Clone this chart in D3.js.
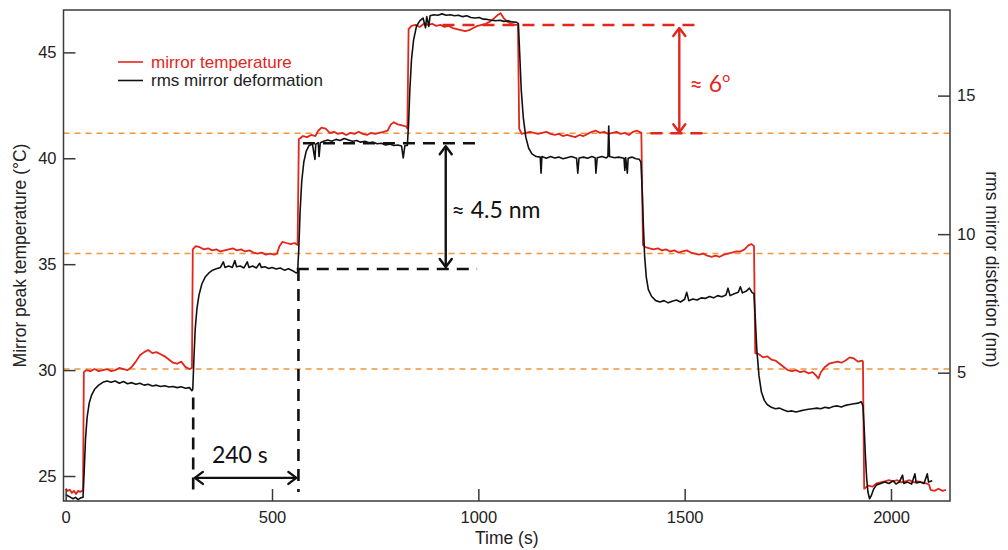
<!DOCTYPE html>
<html><head><meta charset="utf-8">
<script src="https://cdn.jsdelivr.net/npm/d3@7"></script>
<style>html,body{margin:0;padding:0;background:#fff}svg{display:block}</style>
</head><body>
<svg id="chart" width="1008" height="550"></svg>
<script>
// ---- data ----
const timeTicks = [0, 500, 1000, 1500, 2000];
const tempTicks = [25, 30, 35, 40, 45];
const distTicks = [5, 10, 15];
const referenceLevels = [30.05, 35.51, 41.18]; // orange dashed guide levels (°C)
const legendLabels = ["mirror temperature", "rms mirror deformation"];

// mirror temperature [time s, °C]
const mirrorTemp = [
[0,24.4],[5,24.3],[10,24.35],[15,24.2],[20,24.3],[25,24.15],[30,24.3],[35,24.25],[40,24.3],[42,24.3],
[44,29.9],[50,30.0],[60,29.95],[70,30.05],[80,29.95],[90,30.0],[100,30.05],[110,29.95],[120,30.0],[130,30.1],[140,30.05],[150,30.0],[160,30.15],[170,30.4],[180,30.7],[190,30.85],[200,30.95],[210,30.8],[220,30.85],[230,30.75],[240,30.65],[250,30.5],[260,30.35],[270,30.3],[280,30.4],[290,30.15],[300,30.05],[306,30.1],
[308,35.7],[315,35.85],[325,35.8],[335,35.7],[345,35.75],[355,35.65],[365,35.7],[375,35.6],[385,35.65],[395,35.7],[405,35.75],[415,35.65],[425,35.7],[435,35.6],[445,35.65],[455,35.55],[465,35.5],[475,35.55],[485,35.45],[495,35.5],[505,35.45],[512,35.5],[518,35.85],[525,36.05],[535,36.0],[545,35.95],[555,36.0],[562,35.9],
[565,40.9],[575,41.05],[585,41.0],[595,41.1],[605,41.05],[612,41.3],[620,41.45],[630,41.4],[640,41.2],[650,41.25],[660,41.15],[670,41.2],[680,41.1],[690,41.2],[700,41.15],[710,41.25],[720,41.15],[730,41.1],[740,41.2],[750,41.15],[760,41.2],[770,41.25],[780,41.3],[788,41.6],[795,41.7],[805,41.6],[815,41.55],[825,41.5],[828,41.4],
[831,46.1],[838,46.25],[848,46.3],[858,46.2],[868,46.35],[878,46.3],[888,46.35],[898,46.25],[908,46.3],[918,46.2],[928,46.25],[938,46.15],[948,46.1],[958,46.05],[968,46.0],[978,46.05],[988,46.15],[998,46.25],[1008,46.3],[1018,46.35],[1028,46.45],[1038,46.6],[1046,46.75],[1054,46.85],[1062,46.6],[1070,46.45],[1080,46.35],[1090,46.3],[1096,46.3],
[1099,41.4],[1105,41.15],[1115,41.2],[1125,41.25],[1135,41.2],[1145,41.15],[1155,41.2],[1165,41.25],[1175,41.15],[1185,41.1],[1195,41.15],[1205,41.05],[1215,41.1],[1225,41.05],[1235,41.0],[1245,41.1],[1255,41.05],[1265,41.15],[1275,41.25],[1285,41.3],[1295,41.2],[1305,41.25],[1315,41.15],[1325,41.2],[1335,41.25],[1345,41.15],[1355,41.2],[1365,41.1],[1375,41.25],[1385,41.3],[1395,41.2],
[1399,35.9],[1405,35.8],[1415,35.75],[1425,35.7],[1435,35.75],[1445,35.65],[1455,35.7],[1465,35.6],[1475,35.65],[1485,35.55],[1495,35.6],[1505,35.65],[1515,35.55],[1525,35.5],[1535,35.45],[1545,35.5],[1555,35.4],[1565,35.35],[1575,35.4],[1585,35.35],[1595,35.45],[1605,35.5],[1615,35.55],[1625,35.6],[1635,35.6],[1645,35.7],[1655,35.9],[1662,35.95],[1668,35.85],
[1671,30.8],[1680,30.75],[1690,30.6],[1700,30.65],[1710,30.5],[1720,30.45],[1730,30.3],[1740,30.15],[1750,30.0],[1760,29.95],[1770,30.0],[1780,29.9],[1790,29.95],[1800,29.85],[1810,29.9],[1818,29.75],[1824,29.6],[1830,29.9],[1840,30.15],[1850,30.3],[1860,30.35],[1870,30.4],[1880,30.35],[1890,30.45],[1900,30.6],[1910,30.55],[1920,30.4],[1930,30.45],[1932,30.4],
[1935,24.4],[1945,24.55],[1955,24.5],[1965,24.65],[1975,24.7],[1985,24.75],[1995,24.8],[2005,24.75],[2015,24.8],[2025,24.7],[2035,24.75],[2045,24.8],[2055,24.7],[2065,24.75],[2075,24.7],[2085,24.65],[2092,24.6],[2096,24.35],[2105,24.3],[2115,24.4],[2125,24.3],[2133,24.35]
];

// rms mirror deformation [time s, nm]
const rmsDeformation = [
[0,0.6],[6,0.55],[12,0.5],[18,0.45],[24,0.5],[30,0.42],[36,0.48],[42,0.5],[45,1.5],[48,2.6],[52,3.4],[57,3.9],[63,4.2],[70,4.4],[80,4.55],[90,4.65],[100,4.7],[110,4.65],[120,4.7],[130,4.62],[140,4.68],[150,4.6],[160,4.64],[170,4.58],[180,4.62],[190,4.55],[200,4.58],[210,4.52],[220,4.55],[230,4.5],[240,4.53],[250,4.48],[260,4.5],[270,4.46],[280,4.49],[290,4.44],[300,4.46],[306,4.35],
[308,4.4],[311,5.6],[314,6.6],[318,7.3],[323,7.8],[330,8.2],[338,8.45],[347,8.6],[356,8.7],[365,8.75],[375,8.8],[382,9.0],[386,8.8],[395,8.85],[404,8.8],[410,9.05],[414,8.82],[423,8.85],[432,8.78],[440,9.0],[444,8.8],[453,8.85],[462,8.78],[470,8.95],[474,8.8],[483,8.82],[492,8.76],[500,8.8],[510,8.74],[520,8.78],[530,8.7],[540,8.75],[550,8.68],[558,8.6],[562,8.62],
[565,9.5],[568,10.8],[572,11.9],[577,12.6],[583,13.0],[590,13.2],[598,13.25],[604,12.7],[606,13.25],[612,13.3],[614,12.8],[617,13.3],[625,13.35],[635,13.4],[645,13.35],[655,13.42],[665,13.38],[675,13.45],[685,13.4],[695,13.35],[705,13.38],[715,13.32],[725,13.35],[735,13.3],[745,13.32],[755,13.26],[765,13.28],[775,13.22],[785,13.25],[795,13.2],[805,13.22],[814,13.18],[818,12.75],[822,13.2],[828,13.2],
[831,14.0],[834,15.2],[838,16.3],[843,17.0],[850,17.5],[858,17.7],[866,17.8],[872,17.45],[875,17.85],[880,17.5],[883,17.88],[892,17.92],[902,17.9],[912,17.95],[922,17.9],[932,17.92],[942,17.88],[952,17.9],[962,17.85],[972,17.88],[982,17.82],[992,17.8],[1002,17.82],[1012,17.76],[1022,17.75],[1032,17.72],[1042,17.7],[1052,17.72],[1062,17.68],[1072,17.7],[1082,17.66],[1092,17.65],[1097,17.6],
[1100,16.6],[1104,15.2],[1109,14.2],[1115,13.5],[1122,13.1],[1130,12.9],[1140,12.8],[1150,12.78],[1152,12.2],[1154,12.8],[1165,12.74],[1175,12.8],[1185,12.75],[1195,12.78],[1205,12.72],[1215,12.76],[1225,12.8],[1238,12.74],[1241,12.2],[1244,12.75],[1255,12.78],[1265,12.74],[1275,12.8],[1283,12.76],[1285,12.2],[1288,12.76],[1300,12.8],[1310,12.75],[1314,12.8],[1316,13.9],[1318,12.8],[1330,12.76],[1340,12.78],[1353,12.74],[1355,12.3],[1357,12.76],[1361,12.2],[1363,12.74],[1372,12.78],[1382,12.72],[1390,12.7],[1394,12.6],
[1397,11.6],[1400,10.3],[1403,9.2],[1407,8.45],[1412,8.0],[1420,7.75],[1430,7.6],[1440,7.55],[1450,7.6],[1460,7.52],[1470,7.58],[1480,7.62],[1490,7.55],[1500,7.65],[1505,7.9],[1510,7.6],[1520,7.66],[1530,7.62],[1540,7.7],[1550,7.68],[1560,7.75],[1570,7.7],[1580,7.78],[1590,7.74],[1600,7.8],[1605,8.05],[1610,7.78],[1620,7.85],[1630,7.9],[1635,8.1],[1640,7.88],[1650,7.95],[1657,8.05],[1663,7.9],[1668,7.85],
[1671,7.0],[1675,5.8],[1680,4.9],[1686,4.3],[1693,4.0],[1700,3.85],[1710,3.75],[1720,3.7],[1730,3.72],[1740,3.65],[1750,3.6],[1760,3.62],[1770,3.58],[1780,3.62],[1790,3.65],[1800,3.68],[1810,3.7],[1820,3.72],[1830,3.7],[1840,3.75],[1850,3.72],[1860,3.78],[1870,3.8],[1880,3.76],[1890,3.82],[1900,3.85],[1910,3.88],[1920,3.9],[1928,3.95],[1932,3.8],
[1935,3.0],[1938,2.0],[1941,1.2],[1944,0.7],[1948,0.45],[1952,0.55],[1958,0.8],[1965,0.95],[1975,1.0],[1985,1.05],[1995,1.0],[2005,1.1],[2012,0.98],[2020,1.05],[2028,1.3],[2031,1.0],[2040,1.05],[2050,0.98],[2058,1.35],[2061,1.02],[2070,1.05],[2080,1.0],[2088,1.35],[2091,1.05],[2100,1.1]
];

// ---- layout ----
const svg = d3.select("#chart");
const L = 63.5, R = 950, T = 10, B = 501;
const x = d3.scaleLinear().domain([-5.3, 2143]).range([L, R]);
const yT = d3.scaleLinear().domain([23.82, 47.0]).range([B, T]);
const yD = d3.scaleLinear().domain([0.368, 18.09]).range([B, T]);

const RED = "#e2261c", ORANGE = "#f0973e", TXT = "#222", AX = "#3a3a3a";
const tickFont = "'Liberation Sans', Arial, Helvetica, sans-serif";
const annFont = "Lato, 'Open Sans', sans-serif";

svg.append("defs").append("clipPath").attr("id","clip")
  .append("rect").attr("x",L).attr("y",T).attr("width",R-L).attr("height",B-T);

// orange guide lines
svg.append("g").selectAll("line").data(referenceLevels).join("line")
  .attr("x1",L).attr("x2",R).attr("y1",d=>yT(d)).attr("y2",d=>yT(d))
  .attr("stroke",ORANGE).attr("stroke-width",1.5).attr("stroke-dasharray","6,5");

// data lines
const lineT = d3.line().x(d=>x(d[0])).y(d=>yT(d[1]));
const lineD = d3.line().x(d=>x(d[0])).y(d=>yD(d[1]));
const plot = svg.append("g").attr("clip-path","url(#clip)");
plot.append("path").datum(mirrorTemp).attr("d",lineT).attr("fill","none")
  .attr("stroke",RED).attr("stroke-width",1.8).attr("stroke-linejoin","round");
plot.append("path").datum(rmsDeformation).attr("d",lineD).attr("fill","none")
  .attr("stroke","#111").attr("stroke-width",1.6).attr("stroke-linejoin","round");

// axes (ticks inward)
const gL = svg.append("g").attr("transform",`translate(${L},0)`)
  .call(d3.axisLeft(yT).tickValues(tempTicks).tickSizeInner(-12).tickSizeOuter(0));
const gR = svg.append("g").attr("transform",`translate(${R},0)`)
  .call(d3.axisRight(yD).tickValues(distTicks).tickSizeInner(-12).tickSizeOuter(0));
const gB = svg.append("g").attr("transform",`translate(0,${B})`)
  .call(d3.axisBottom(x).tickValues(timeTicks).tickFormat(d3.format("d")).tickSizeInner(-12).tickSizeOuter(0));
[gL,gR,gB].forEach(g=>{
  g.select(".domain").remove();
  g.selectAll(".tick line").attr("stroke",AX).attr("stroke-width",1.5);
  g.selectAll(".tick text").attr("fill",TXT).style("font-family",tickFont).style("font-size","16.5px");
});
gR.selectAll(".tick text").attr("x",7);
gL.selectAll(".tick text").attr("x",-7);
gB.selectAll(".tick text").attr("y",10);
// frame
svg.append("rect").attr("x",L).attr("y",T).attr("width",R-L).attr("height",B-T)
  .attr("fill","none").attr("stroke",AX).attr("stroke-width",1.5);

// axis titles
svg.append("text").attr("transform",`translate(26,${(T+B)/2}) rotate(-90)`)
  .attr("text-anchor","middle").attr("fill",TXT).style("font-family",tickFont).style("font-size","17.5px")
  .text("Mirror peak temperature (°C)");
svg.append("text").attr("transform",`translate(986,${(T+B)/2+14}) rotate(90)`)
  .attr("text-anchor","middle").attr("fill",TXT).style("font-family",tickFont).style("font-size","17.5px")
  .text("rms mirror distortion (nm)");
svg.append("text").attr("x",(L+R)/2).attr("y",544).attr("text-anchor","middle")
  .attr("fill",TXT).style("font-family",tickFont).style("font-size","17.5px").text("Time (s)");

// legend
const legColors = [RED, "#111"];
const leg = svg.append("g");
legendLabels.forEach((lab,i)=>{
  const yy = 62 + i*18.5;
  leg.append("line").attr("x1",118).attr("x2",143).attr("y1",yy).attr("y2",yy)
    .attr("stroke",legColors[i]).attr("stroke-width",1.6);
  leg.append("text").attr("x",151).attr("y",yy).attr("dy","0.35em")
    .attr("fill",i===0?RED:TXT).style("font-family",tickFont).style("font-size","17px").text(lab);
});

// ---- annotations (anchored in data coordinates) ----
const ann = svg.append("g");
function dashed(x1,y1,x2,y2,col){
  ann.append("line").attr("x1",x1).attr("y1",y1).attr("x2",x2).attr("y2",y2)
    .attr("stroke",col).attr("stroke-width",2.6).attr("stroke-dasharray","12,8");
}
function arrowHead(px,py,dx,dy,col){
  const s=8, w=6;
  const bx=px-dx*s, by=py-dy*s, nx=-dy, ny=dx;
  ann.append("path").attr("d",`M${bx+nx*w},${by+ny*w}L${px},${py}L${bx-nx*w},${by-ny*w}`)
    .attr("fill","none").attr("stroke",col).attr("stroke-width",2.4).attr("stroke-linecap","round").attr("stroke-linejoin","round");
}
function doubleArrow(x1,y1,x2,y2,col){
  ann.append("line").attr("x1",x1).attr("y1",y1).attr("x2",x2).attr("y2",y2)
    .attr("stroke",col).attr("stroke-width",2.4);
  const len=Math.hypot(x2-x1,y2-y1), ux=(x2-x1)/len, uy=(y2-y1)/len;
  arrowHead(x2,y2,ux,uy,col); arrowHead(x1,y1,-ux,-uy,col);
}
// red: ≈ 6°
const hiTemp = 46.29, loTemp = 41.18;
dashed(x(913), yT(hiTemp), x(1535), yT(hiTemp), RED);
dashed(x(1417), yT(loTemp), x(1545), yT(loTemp), RED);
doubleArrow(x(1487), yT(hiTemp)+3, x(1487), yT(loTemp)-1, RED);
ann.append("text").attr("x",x(1512)).attr("y",yT(43.15)).attr("fill",RED)
  .style("font-family",annFont).style("font-size","23px")
  .text("≈ 6").append("tspan").attr("dy",-10).style("font-size","14px").text("o");
// black: ≈ 4.5 nm
const hiDist = 13.28, loDist = 8.74;
dashed(x(575), yD(hiDist), x(997), yD(hiDist), "#111");
dashed(x(560), yD(loDist), x(997), yD(loDist), "#111");
doubleArrow(x(921), yD(hiDist)+3, x(921), yD(loDist)-2, "#111");
ann.append("text").attr("x",x(935)).attr("y",yD(10.6)).attr("fill","#111")
  .style("font-family",annFont).style("font-size","23px").text("≈ 4.5 nm");
// 240 s
dashed(x(309), yD(4.1), x(309), yT(24.24), "#111");
dashed(x(564), yD(loDist), x(564), yT(24.24), "#111");
doubleArrow(x(313), yT(24.91), x(559), yT(24.91), "#111");
ann.append("text").attr("x",x(422)).attr("y",yT(25.6)).attr("text-anchor","middle").attr("fill","#111")
  .style("font-family",annFont).style("font-size","23px").text("240 s");
</script>
</body></html>
